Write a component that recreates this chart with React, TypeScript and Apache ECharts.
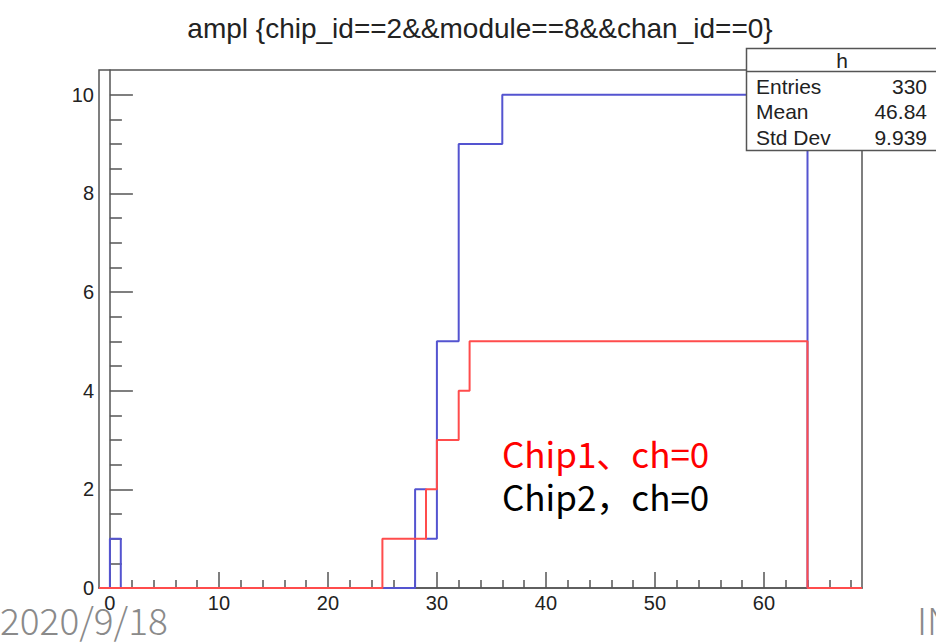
import React, { useEffect, useRef } from "react";
import * as echarts from "echarts";

// Histogram bin low edges (bin width 1, range -1 .. 69)
const binEdges: number[] = [
  -1, 0, 1, 2, 3, 4, 5, 6, 7, 8,
  9, 10, 11, 12, 13, 14, 15, 16, 17, 18,
  19, 20, 21, 22, 23, 24, 25, 26, 27, 28,
  29, 30, 31, 32, 33, 34, 35, 36, 37, 38,
  39, 40, 41, 42, 43, 44, 45, 46, 47, 48,
  49, 50, 51, 52, 53, 54, 55, 56, 57, 58,
  59, 60, 61, 62, 63, 64, 65, 66, 67, 68,
];
const upperEdge = 69;

// Blue histogram "h" (Chip2, ch=0)
const chip2Counts: number[] = [
  0, 1, 0, 0, 0, 0, 0, 0, 0, 0,
  0, 0, 0, 0, 0, 0, 0, 0, 0, 0,
  0, 0, 0, 0, 0, 0, 0, 0, 0, 2,
  1, 5, 5, 9, 9, 9, 9, 10, 10, 10,
  10, 10, 10, 10, 10, 10, 10, 10, 10, 10,
  10, 10, 10, 10, 10, 10, 10, 10, 10, 10,
  10, 10, 10, 10, 10, 0, 0, 0, 0, 0,
];

// Red histogram (Chip1, ch=0)
const chip1Counts: number[] = [
  0, 0, 0, 0, 0, 0, 0, 0, 0, 0,
  0, 0, 0, 0, 0, 0, 0, 0, 0, 0,
  0, 0, 0, 0, 0, 0, 1, 1, 1, 1,
  2, 3, 3, 4, 5, 5, 5, 5, 5, 5,
  5, 5, 5, 5, 5, 5, 5, 5, 5, 5,
  5, 5, 5, 5, 5, 5, 5, 5, 5, 5,
  5, 5, 5, 5, 5, 0, 0, 0, 0, 0,
];

const xMajorTicks: number[] = [0, 10, 20, 30, 40, 50, 60];
const xMinorTicks: number[] = [2, 4, 6, 8, 12, 14, 16, 18, 22, 24, 26, 28, 32, 34, 36, 38, 42, 44, 46, 48, 52, 54, 56, 58, 62, 64, 66, 68];
const yMajorTicks: number[] = [0, 2, 4, 6, 8, 10];
const yMinorTicks: number[] = [0.5, 1, 1.5, 2.5, 3, 3.5, 4.5, 5, 5.5, 6.5, 7, 7.5, 8.5, 9, 9.5];

const titleText = "ampl {chip_id==2&&module==8&&chan_id==0}";
const statsName = "h";
const statsLabels: string[] = ["Entries", "Mean", "Std Dev"];
const statsValues: string[] = ["330", "46.84", "9.939"];
const legendChip1 = "Chip1、ch=0";
const legendChip2 = "Chip2，ch=0";
const dateText = "2020/9/18";
const cornerText = "IN";

function toSteps(counts: number[]): [number, number][] {
  const pts: [number, number][] = binEdges.map((e, i) => [e, counts[i]] as [number, number]);
  pts.push([upperEdge, 0]);
  return pts;
}

export default function App() {
  const ref = useRef<HTMLDivElement>(null);
  useEffect(() => {
    if (!ref.current) return;
    const chart = echarts.init(ref.current, undefined, { renderer: "svg" });
    const font = "'Liberation Sans', Arial, Helvetica, sans-serif";
    const jpFont = "'Noto Sans CJK JP', sans-serif";
    const axisColor = "#555555";
    const textColor = "#222222";
    const gridL = 99, gridT = 70, gridR = 862, gridB = 588;
    const option: any = {
      animation: false,
      backgroundColor: "#ffffff",
      grid: {
        left: gridL,
        top: gridT,
        width: gridR - gridL,
        height: gridB - gridT,
        show: true,
        borderColor: axisColor,
        borderWidth: 1.5,
        backgroundColor: "transparent",
      },
      xAxis: [
        {
          type: "value",
          min: -1,
          max: upperEdge,
          position: "bottom",
          axisLine: { show: true, lineStyle: { color: axisColor, width: 1.5 } },
          axisTick: { show: true, inside: true, length: 16, customValues: xMajorTicks, lineStyle: { color: axisColor, width: 1.5 } },
          axisLabel: { show: true, customValues: xMajorTicks, fontFamily: font, fontSize: 20, color: textColor, margin: 5 },
          splitLine: { show: false },
        },
        {
          type: "value",
          min: -1,
          max: upperEdge,
          position: "bottom",
          axisLine: { show: false },
          axisTick: { show: true, inside: true, length: 8, customValues: xMinorTicks, lineStyle: { color: axisColor, width: 1.5 } },
          axisLabel: { show: false },
          splitLine: { show: false },
        },
      ],
      yAxis: [
        {
          type: "value",
          min: 0,
          max: 10.5,
          position: "left",
          axisLine: { show: true, lineStyle: { color: axisColor, width: 1.5 } },
          axisTick: { show: true, inside: true, length: 23, customValues: yMajorTicks, lineStyle: { color: axisColor, width: 1.5 } },
          axisLabel: { show: true, customValues: yMajorTicks, fontFamily: font, fontSize: 20, color: textColor, margin: 5 },
          splitLine: { show: false },
        },
        {
          type: "value",
          min: 0,
          max: 10.5,
          position: "left",
          axisLine: { show: false },
          axisTick: { show: true, inside: true, length: 12, customValues: yMinorTicks, lineStyle: { color: axisColor, width: 1.5 } },
          axisLabel: { show: false },
          splitLine: { show: false },
        },
      ],
      series: [
        {
          type: "line",
          name: "h",
          xAxisIndex: 0,
          yAxisIndex: 0,
          step: "end",
          symbol: "none",
          clip: false,
          data: toSteps(chip2Counts),
          lineStyle: { color: "#5454d0", width: 2 },
          z: 3,
        },
        {
          type: "line",
          name: "chip1",
          xAxisIndex: 0,
          yAxisIndex: 0,
          step: "end",
          symbol: "none",
          clip: false,
          data: toSteps(chip1Counts),
          lineStyle: { color: "#ff4c4c", width: 2 },
          z: 4,
        },
      ],
      graphic: [
        {
          type: "text",
          x: 480,
          y: 28,
          style: { text: titleText, font: `28px ${font}`, fill: textColor, align: "center", verticalAlign: "middle" },
          z: 10,
        },
        {
          type: "rect",
          shape: { x: 746.5, y: 48.5, width: 200, height: 102 },
          style: { fill: "#ffffff", stroke: "#555555", lineWidth: 1.5 },
          z: 20,
        },
        {
          type: "line",
          shape: { x1: 746.5, y1: 71.5, x2: 946, y2: 71.5 },
          style: { stroke: "#555555", lineWidth: 1.5 },
          z: 21,
        },
        {
          type: "text",
          x: 842,
          y: 60,
          style: { text: statsName, font: `21px ${font}`, fill: textColor, align: "center", verticalAlign: "middle" },
          z: 21,
        },
        ...statsLabels.map((lab, i) => ({
          type: "text",
          x: 756,
          y: 86 + i * 25.5,
          style: { text: lab, font: `21px ${font}`, fill: textColor, align: "left", verticalAlign: "middle" },
          z: 21,
        })),
        ...statsValues.map((val, i) => ({
          type: "text",
          x: 927,
          y: 86 + i * 25.5,
          style: { text: val, font: `21px ${font}`, fill: textColor, align: "right", verticalAlign: "middle" },
          z: 21,
        })),
        {
          type: "text",
          x: 502,
          y: 452,
          style: { text: legendChip1, font: `35px ${jpFont}`, fill: "#ff0000", align: "left", verticalAlign: "middle" },
          z: 22,
        },
        {
          type: "text",
          x: 502,
          y: 495,
          style: { text: legendChip2, font: `35px ${jpFont}`, fill: "#000000", align: "left", verticalAlign: "middle" },
          z: 22,
        },
        {
          type: "text",
          x: 0,
          y: 619,
          style: { text: dateText, font: `300 37px ${jpFont}`, fill: "#8a8a8a", align: "left", verticalAlign: "middle" },
          z: 22,
        },
        {
          type: "text",
          x: 917,
          y: 619,
          style: { text: cornerText, font: `300 37px ${jpFont}`, fill: "#8a8a8a", align: "left", verticalAlign: "middle" },
          z: 22,
        },
      ],
    };
    chart.setOption(option);
    return () => chart.dispose();
  }, []);
  return (
    <div
      ref={ref}
      style={{ position: "fixed", left: 0, top: 0, width: 936, height: 642, background: "#ffffff" }}
    />
  );
}
